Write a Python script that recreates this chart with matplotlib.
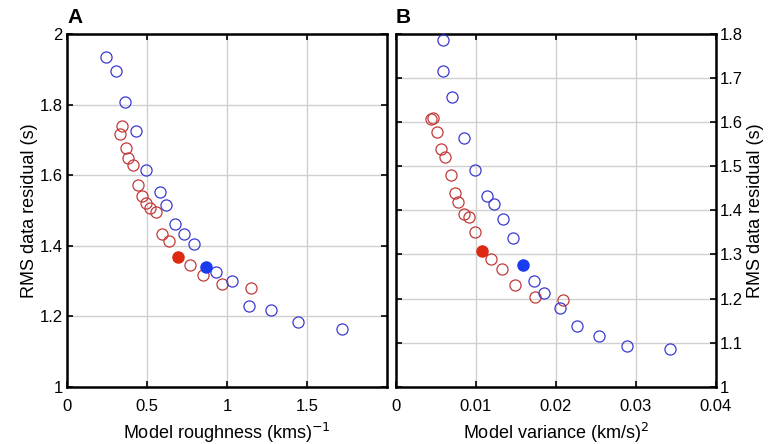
import matplotlib
matplotlib.use("Agg")
import matplotlib.pyplot as plt

plt.rcParams["font.family"] = ["Liberation Sans", "DejaVu Sans"]

# panel A: roughness vs RMS residual
a_blue_x = [0.246, 0.304, 0.363, 0.429, 0.496, 0.579, 0.617, 0.675, 0.734, 0.796,
            0.934, 1.029, 1.138, 1.275, 1.446, 1.717]
a_blue_y = [1.934, 1.894, 1.806, 1.724, 1.613, 1.551, 1.514, 1.462, 1.432, 1.406,
            1.324, 1.299, 1.230, 1.217, 1.183, 1.164]
a_red_x = [0.342, 0.329, 0.367, 0.383, 0.413, 0.446, 0.471, 0.492, 0.517, 0.554,
           0.596, 0.638, 0.767, 0.850, 0.971, 1.150]
a_red_y = [1.738, 1.717, 1.676, 1.649, 1.628, 1.572, 1.542, 1.520, 1.508, 1.494,
           1.434, 1.413, 1.344, 1.316, 1.291, 1.281]
a_blue_sel = (0.871, 1.340)
a_red_sel = (0.696, 1.368)

# panel B: variance vs RMS residual
b_blue_x = [0.00583, 0.00592, 0.0070, 0.0085, 0.00992, 0.01142, 0.01225, 0.0134,
            0.01458, 0.01725, 0.0185, 0.0205, 0.02267, 0.02542, 0.02883, 0.03425]
b_blue_y = [1.786, 1.716, 1.656, 1.565, 1.491, 1.433, 1.414, 1.380,
            1.338, 1.239, 1.212, 1.178, 1.137, 1.116, 1.093, 1.086]
b_red_x = [0.00458, 0.00442, 0.00517, 0.00558, 0.00613, 0.00683, 0.00742, 0.00775,
           0.0085, 0.00908, 0.00983, 0.01183, 0.01325, 0.01483, 0.01733, 0.02092]
b_red_y = [1.610, 1.607, 1.578, 1.540, 1.521, 1.481, 1.440, 1.419,
           1.391, 1.384, 1.352, 1.290, 1.267, 1.230, 1.204, 1.197]
b_blue_sel = (0.01583, 1.275)
b_red_sel = (0.01075, 1.307)

BLUE = "#3a3ad0"
RED = "#c23a3a"
BLUE_F = "#1a3cf0"
RED_F = "#dd2a10"

fig = plt.figure(figsize=(7.69, 4.44), dpi=100)
axA = fig.add_axes([67 / 769, 1 - 386.7 / 444, 320 / 769, 352.7 / 444])
axB = fig.add_axes([396 / 769, 1 - 386.7 / 444, 320 / 769, 352.7 / 444])


def draw(ax, bx, by, rx, ry, bsel, rsel):
    ax.plot(rx, ry, "o", mfc="none", mec=RED, ms=8, mew=0.9, zorder=3)
    ax.plot(bx, by, "o", mfc="none", mec=BLUE, ms=8, mew=0.9, zorder=3)
    ax.plot(*rsel, "o", color=RED_F, ms=8, zorder=4)
    ax.plot(*bsel, "o", color=BLUE_F, ms=8, zorder=4)
    ax.grid(True, color="#d0d0d0", lw=1)
    ax.set_axisbelow(True)
    ax.tick_params(direction="in", length=4, width=1.2, top=True, right=True,
                   labelsize=12, colors="black")
    ax.tick_params(axis="x", pad=9)
    ax.tick_params(axis="y", pad=3)
    for s in ax.spines.values():
        s.set_linewidth(1.8)


draw(axA, a_blue_x, a_blue_y, a_red_x, a_red_y, a_blue_sel, a_red_sel)
axA.set_xlim(0, 2)
axA.set_ylim(1, 2)
axA.set_xticks([0, 0.5, 1, 1.5])
axA.set_xticklabels(["0", "0.5", "1", "1.5"])
axA.set_yticks([1, 1.2, 1.4, 1.6, 1.8, 2])
axA.set_yticklabels(["1", "1.2", "1.4", "1.6", "1.8", "2"])
axA.set_xlabel("Model roughness (kms)$^{-1}$", fontsize=13, labelpad=5)
axA.set_ylabel("RMS data residual (s)", fontsize=13, labelpad=1)
axA.text(0.0, 1.02, "A", transform=axA.transAxes, fontsize=15,
         fontweight="bold", va="bottom")

draw(axB, b_blue_x, b_blue_y, b_red_x, b_red_y, b_blue_sel, b_red_sel)
axB.set_xlim(0, 0.04)
axB.set_ylim(1, 1.8)
axB.set_xticks([0, 0.01, 0.02, 0.03, 0.04])
axB.set_xticklabels(["0", "0.01", "0.02", "0.03", "0.04"])
axB.set_yticks([1, 1.1, 1.2, 1.3, 1.4, 1.5, 1.6, 1.7, 1.8])
axB.set_yticklabels(["1", "1.1", "1.2", "1.3", "1.4", "1.5", "1.6", "1.7", "1.8"])
axB.yaxis.tick_right()
axB.tick_params(left=True, labelleft=False, labelright=True)
axB.yaxis.set_label_position("right")
axB.set_xlabel("Model variance (km/s)$^{2}$", fontsize=13, labelpad=5)
axB.set_ylabel("RMS data residual (s)", fontsize=13, rotation=90, labelpad=3)
axB.text(0.0, 1.02, "B", transform=axB.transAxes, fontsize=15,
         fontweight="bold", va="bottom")

fig.savefig("out.png", dpi=100)
plt.close(fig)
